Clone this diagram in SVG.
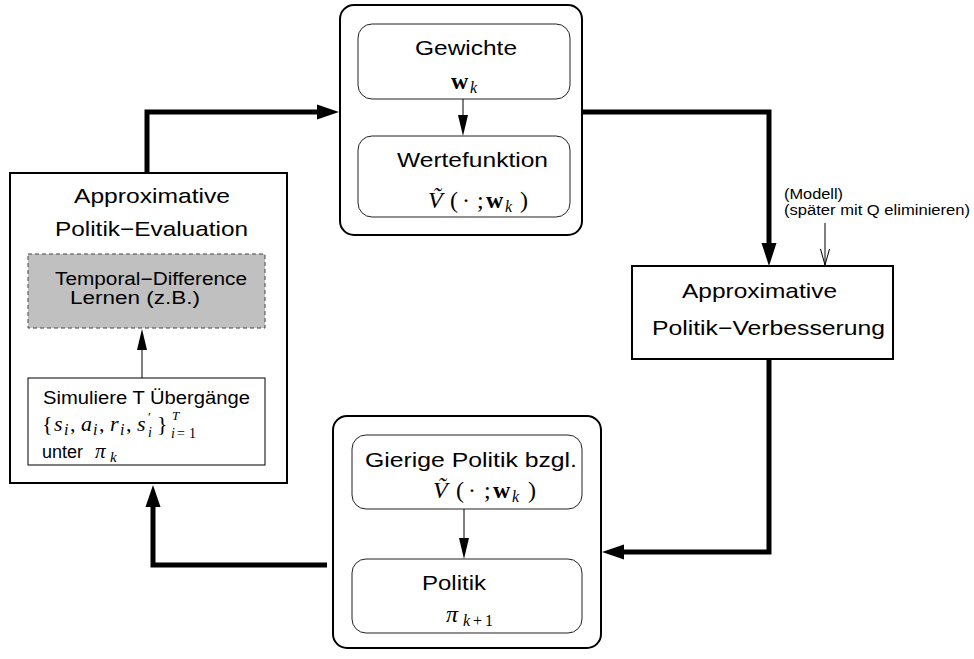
<svg xmlns="http://www.w3.org/2000/svg" width="974" height="659" viewBox="0 0 974 659">
<style>
.box{fill:#fff;stroke:#000;stroke-width:2}
.inner{fill:#fff;stroke:#222;stroke-width:1}
.td{fill:#c0c0c0;stroke:#444;stroke-width:1;stroke-dasharray:4 3}
.lbl{font-family:"Liberation Sans",Arial,Helvetica,sans-serif;font-size:21px;fill:#000}
.sm{font-size:18px}
.xs{font-size:14px}
.m{font-family:"Liberation Serif","Times New Roman",serif;font-style:italic;font-size:24px;fill:#000}
.up{font-style:normal}
.bw{font-style:normal;font-weight:bold}
.sub{font-size:16px}
.thick{fill:none;stroke:#000;stroke-width:5}
.thin{fill:none;stroke:#000;stroke-width:1}
.head{fill:#000;stroke:none}
</style>
<rect width="974" height="659" fill="#fff"/>

<g id="connectors">
  <path class="thick" d="M147,173 V112 H320"/>
  <polygon class="head" points="339,112 317,104.5 317,119.5"/>
  <path class="thick" d="M582,112 H769 V246"/>
  <polygon class="head" points="769,266 761.5,243 776.5,243"/>
  <path class="thick" d="M769,359 V552 H622"/>
  <polygon class="head" points="602,552 624,544.5 624,559.5"/>
  <path class="thick" d="M327,565 H153 V504"/>
  <polygon class="head" points="153,485 145.5,507 160.5,507"/>
  <path class="thin" d="M825,223 V265"/>
  <path class="thin" d="M820.5,249 L825,265 L829.5,249"/>
</g>

<g id="gewichte-wertefunktion">
  <rect class="box" x="340" y="5" width="242" height="230" rx="14"/>
  <rect class="inner" x="358" y="24" width="212" height="75" rx="14"/>
  <text class="lbl" x="415" y="55" textLength="102" lengthAdjust="spacingAndGlyphs">Gewichte</text>
  <text class="m"><tspan class="bw" x="451" y="89">w</tspan><tspan class="sub" x="470" y="93">k</tspan></text>
  <line class="thin" x1="463" y1="99" x2="463" y2="118"/>
  <polygon class="head" points="463,136 458,115 468,115"/>
  <rect class="inner" x="358" y="136" width="212" height="81" rx="14"/>
  <text class="lbl" x="397" y="167" textLength="151" lengthAdjust="spacingAndGlyphs">Wertefunktion</text>
  <text class="m"><tspan x="428" y="208">Ṽ</tspan><tspan class="up" x="450" y="208">(</tspan><tspan class="up" x="462" y="208">·</tspan><tspan class="up" x="477" y="208">;</tspan><tspan class="bw" x="486" y="208">w</tspan><tspan class="sub" x="505" y="212">k</tspan><tspan class="up" x="520" y="208">)</tspan></text>
</g>

<g id="politik-evaluation">
  <rect class="box" x="10" y="173" width="277" height="310"/>
  <text class="lbl" x="74" y="203" textLength="156" lengthAdjust="spacingAndGlyphs">Approximative</text>
  <text class="lbl" x="55" y="236" textLength="193" lengthAdjust="spacingAndGlyphs">Politik−Evaluation</text>
</g>

<g id="td-lernen">
  <rect class="td" x="28" y="254" width="237" height="74"/>
  <text class="lbl sm" x="55" y="285" textLength="192" lengthAdjust="spacingAndGlyphs">Temporal−Difference</text>
  <text class="lbl sm" x="70" y="304" textLength="130" lengthAdjust="spacingAndGlyphs">Lernen (z.B.)</text>
</g>

<g id="simuliere">
  <line class="thin" x1="142" y1="378" x2="142" y2="348"/>
  <polygon class="head" points="142,329 137,350 147,350"/>
  <rect class="box" style="stroke-width:1" x="28" y="378" width="237" height="87"/>
  <text class="lbl sm" x="43" y="404" textLength="207" lengthAdjust="spacingAndGlyphs">Simuliere T Übergänge</text>
  <text class="m" style="font-size:22px"><tspan class="up" x="42" y="431">{</tspan><tspan x="54" y="431">s</tspan><tspan class="sub" x="64" y="435">i</tspan><tspan class="up" x="70" y="431">,</tspan><tspan x="81" y="431">a</tspan><tspan class="sub" x="93" y="435">i</tspan><tspan class="up" x="99" y="431">,</tspan><tspan x="110" y="431">r</tspan><tspan class="sub" x="120" y="435">i</tspan><tspan class="up" x="126" y="431">,</tspan><tspan x="137" y="431">s</tspan><tspan class="up" style="font-size:13px" x="148" y="421">′</tspan><tspan class="sub" style="font-size:14px" x="148" y="437">i</tspan><tspan class="up" x="157" y="431">}</tspan><tspan class="sub" style="font-size:13px" x="172" y="420">T</tspan><tspan class="sub" style="font-size:14px" x="171" y="438">i</tspan><tspan class="up sub" style="font-size:14px" x="177" y="438">=</tspan><tspan class="up sub" style="font-size:14px" x="189" y="438">1</tspan></text>
  <text class="lbl sm" x="42" y="458" textLength="41" lengthAdjust="spacingAndGlyphs">unter</text>
  <text class="m" style="font-size:21px"><tspan x="95" y="458">π</tspan><tspan class="sub" style="font-size:15px" x="110" y="462">k</tspan></text>
</g>

<g id="politik-verbesserung">
  <rect class="box" x="632" y="266" width="261" height="93"/>
  <text class="lbl" x="682" y="298" textLength="155" lengthAdjust="spacingAndGlyphs">Approximative</text>
  <text class="lbl" x="652" y="335" textLength="233" lengthAdjust="spacingAndGlyphs">Politik−Verbesserung</text>
</g>

<g id="modell">
  <text class="lbl xs" x="784" y="199" textLength="59" lengthAdjust="spacingAndGlyphs">(Modell)</text>
  <text class="lbl xs" x="784" y="215" textLength="186" lengthAdjust="spacingAndGlyphs">(später mit Q eliminieren)</text>
</g>

<g id="gierige-politik">
  <rect class="box" x="333" y="416" width="268" height="232" rx="14"/>
  <rect class="inner" x="352" y="435" width="230" height="74" rx="14"/>
  <text class="lbl" x="365" y="467" textLength="212" lengthAdjust="spacingAndGlyphs">Gierige Politik bzgl.</text>
  <text class="m"><tspan x="433" y="498">Ṽ</tspan><tspan class="up" x="456" y="498">(</tspan><tspan class="up" x="468" y="498">·</tspan><tspan class="up" x="484" y="498">;</tspan><tspan class="bw" x="493" y="498">w</tspan><tspan class="sub" x="512" y="502">k</tspan><tspan class="up" x="528" y="498">)</tspan></text>
  <line class="thin" x1="464" y1="509" x2="464" y2="540"/>
  <polygon class="head" points="464,559 459,538 469,538"/>
  <rect class="inner" x="352" y="559" width="230" height="74" rx="14"/>
  <text class="lbl" x="422" y="590" textLength="64" lengthAdjust="spacingAndGlyphs">Politik</text>
  <text class="m"><tspan x="446" y="622">π</tspan><tspan class="sub" x="463" y="626">k</tspan><tspan class="up sub" x="473" y="626">+</tspan><tspan class="up sub" x="485" y="626">1</tspan></text>
</g>
</svg>
